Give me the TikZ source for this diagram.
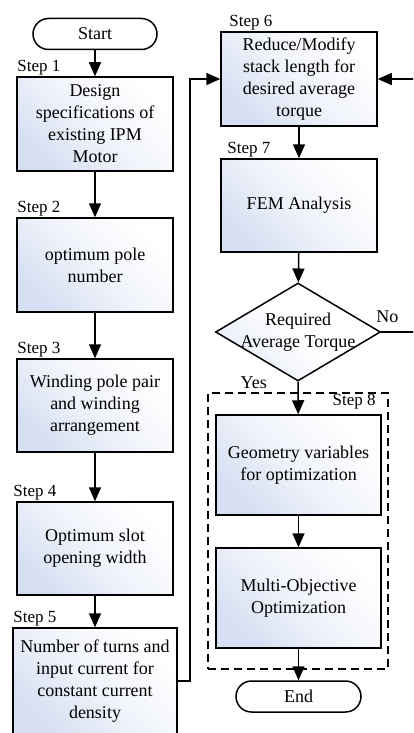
\documentclass[tikz,border=0pt]{standalone}
\usepackage{fontspec}
\setmainfont{Liberation Serif}
\usetikzlibrary{arrows.meta,shapes.geometric}
\definecolor{boxblue}{RGB}{214,223,242}

\begin{document}
\begin{tikzpicture}[x=1pt, y=-1pt,
        stepbox/.style={draw=black, line width=1.5pt, top color=boxblue, bottom color=white, middle color=boxblue!35!white, shading angle=135,
            minimum width=156pt, minimum height=94pt, inner sep=2pt, align=center, font=\fontsize{18}{22}\selectfont},
        terminal/.style={draw=black, line width=1.5pt, fill=white, rounded corners=15.5pt,
            minimum width=124pt, minimum height=31pt, inner sep=0pt, font=\fontsize{18}{22}\selectfont},
        decision/.style={diamond, draw=black, line width=1.5pt, top color=boxblue!60, bottom color=white, middle color=white, shading angle=135,
            minimum width=165pt, minimum height=98pt, inner sep=0pt},
        steplbl/.style={anchor=south west, inner sep=1pt, font=\fontsize{17}{20}\selectfont},
        flow/.style={-{Triangle[width=12pt,length=14pt]}, line width=1.5pt},
        txt/.style={inner sep=1pt, align=center, font=\fontsize{18}{22}\selectfont}]

    \useasboundingbox (0,0) rectangle (413,733);
    \clip (0,0) rectangle (413,733);

    \node[terminal] (start) at (95,34) {Start};
    \node[stepbox, label={[steplbl]north west:Step 1}] (b1) at (95,124) {Design\\specifications of\\existing IPM\\Motor};
    \node[stepbox, label={[steplbl]north west:Step 2}] (b2) at (95,265) {optimum pole\\number};
    \node[stepbox, minimum height=93pt, label={[steplbl]north west:Step 3}] (b3) at (95,405.5) {Winding pole pair\\and winding\\arrangement};
    \node[stepbox, minimum height=93pt, label={[steplbl, xshift=-4pt]north west:Step 4}] (b4) at (95,548.5) {Optimum slot\\opening width};
    \node[stepbox, minimum width=164pt, minimum height=106pt, label={[steplbl]north west:Step 5}] (b5) at (95,681) {Number of turns and\\input current for\\constant current\\density};

    \node[stepbox, label={[steplbl, xshift=8pt]north west:Step 6}] (b6) at (299,79) {Reduce/Modify\\stack length for\\desired average\\torque};
    \node[stepbox, minimum height=93pt, label={[steplbl, xshift=6pt]north west:Step 7}] (b7) at (299,205.5) {FEM Analysis};
    \node[decision] (dia) at (298,332) {};
    \node[txt] (diatxt) at (dia) {Required\\Average Torque};

    \node[draw=black, line width=1.5pt, dash pattern=on 8pt off 5pt, minimum width=180pt, minimum height=276pt, inner sep=0pt] (frame) at (298,531) {};
    \node[steplbl, anchor=north east] (s8) at ([xshift=-12pt, yshift=-1pt]frame.north east) {Step 8};
    \node[stepbox, minimum width=165pt, minimum height=100pt] (b8a) at (298.5,465) {Geometry variables\\for optimization};
    \node[stepbox, minimum width=165pt, minimum height=100pt] (b8b) at (298.5,598) {Multi-Objective\\Optimization};
    \node[terminal, minimum width=125pt] (end) at (298.5,696.5) {End};

    \coordinate (back) at (190,681);
    \coordinate (loop) at (430,332);

    \draw[flow] (start) -- (b1);
    \draw[flow] (b1) -- (b2);
    \draw[flow] (b2) -- (b3);
    \draw[flow] (b3) -- (b4);
    \draw[flow] (b4) -- (b5);
    \draw[flow] (b5.east |- back) -- (back) |- (b6.west);
    \draw[flow] (b6) -- (b7);
    \draw[flow] (b7) -- (dia);
    \draw[flow] (dia.east) -- (loop) |- (b6.east);
    \draw[flow] (dia.south) -- (b8a);
    \draw[flow] (b8a) -- (b8b);
    \draw[flow] (b8b) -- (end);

    \node[txt, anchor=south west] (no) at ([xshift=-6pt, yshift=8pt]dia.east) {No};
    \node[txt, anchor=north east] (yes) at ([xshift=-30pt, yshift=6pt]dia.south) {Yes};

\end{tikzpicture}
\end{document}
